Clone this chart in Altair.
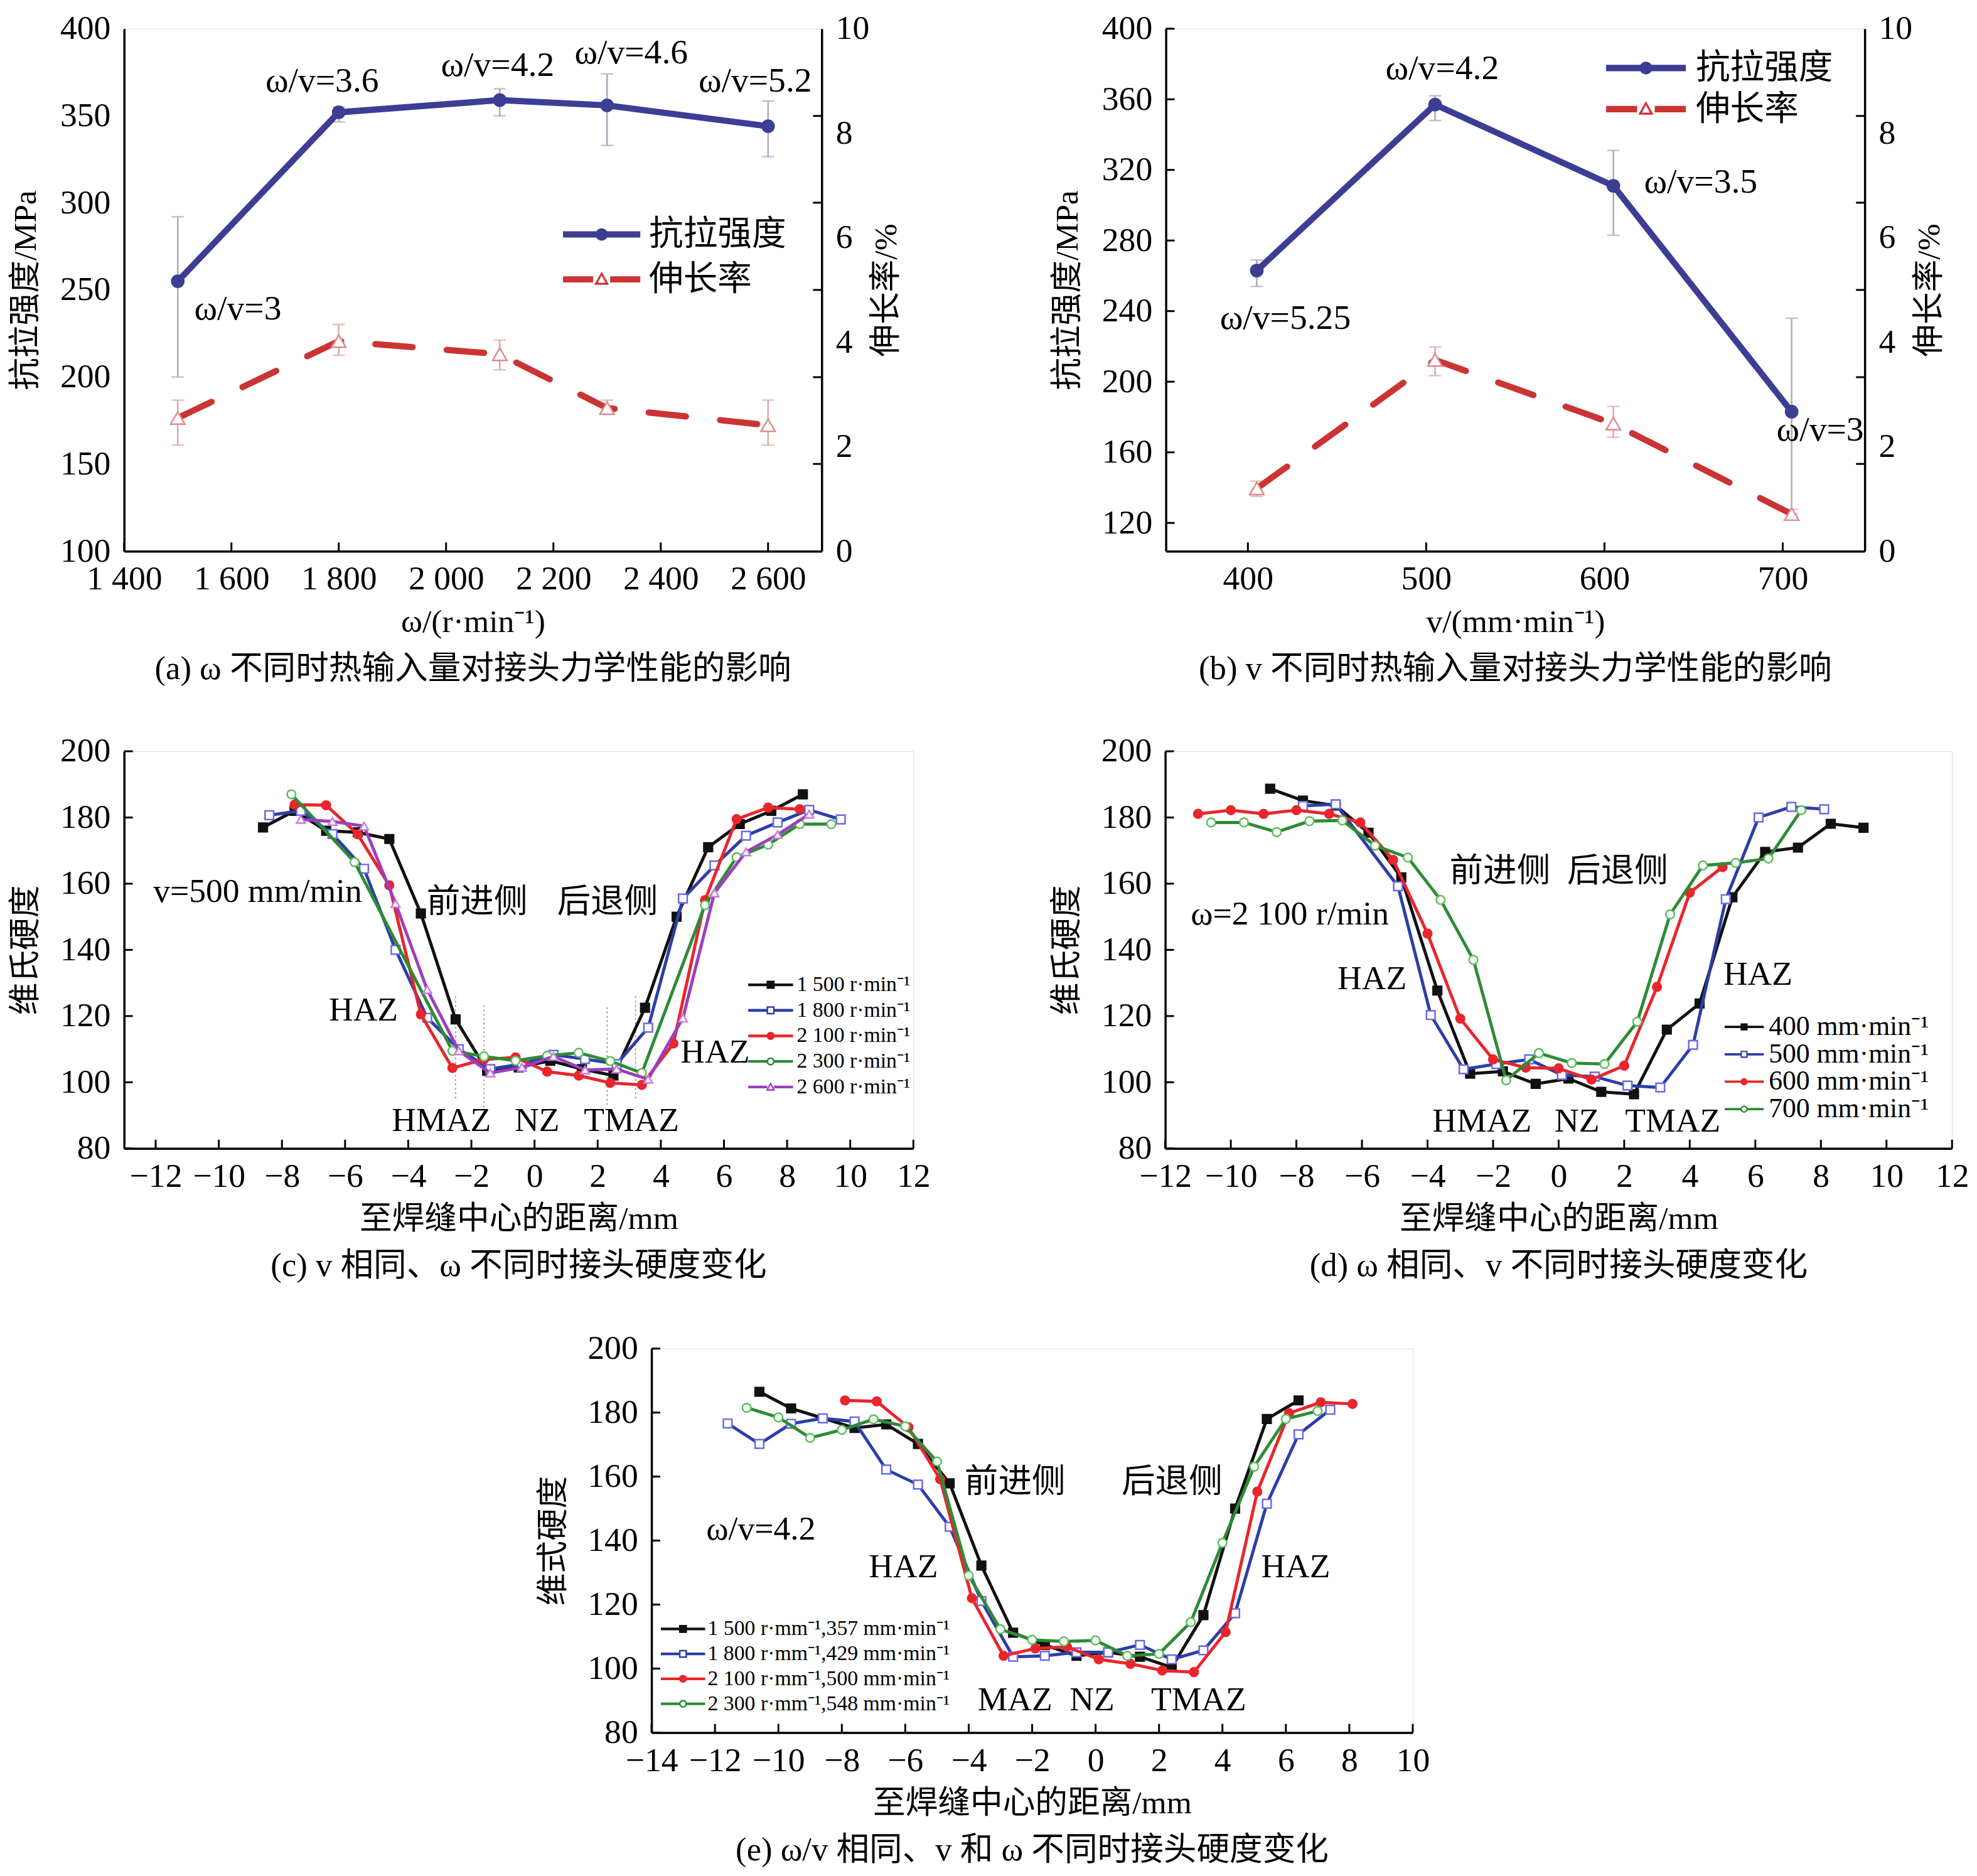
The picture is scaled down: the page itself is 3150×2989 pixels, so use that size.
import altair as alt
import pandas as pd

FONT = "'Liberation Serif', 'Noto Sans CJK SC', serif"

# ---------------- panel (a) ----------------
a_omega = [1500, 1800, 2100, 2300, 2600]
a_uts = [255, 352, 359, 356, 344]
a_uts_lo = [200, 346.5, 350, 333, 326.5]
a_uts_hi = [292, 355, 365.5, 374, 358.5]
a_el = [2.55, 4.02, 3.77, 2.74, 2.41]
a_el_lo = [2.03, 3.75, 3.47, 2.63, 2.03]
a_el_hi = [2.89, 4.34, 4.04, 2.89, 2.89]
a_ann_text = ["ω/v=3.6", "ω/v=4.2", "ω/v=4.6", "ω/v=5.2", "ω/v=3"]
a_ann_x = [1769, 2096, 2345, 2576, 1612]
a_ann_y = [370, 379, 386, 370, 239]
a_xticks = [1400, 1600, 1800, 2000, 2200, 2400, 2600]
a_yticks = [100, 150, 200, 250, 300, 350, 400]
el_ticks = [0, 2, 4, 6, 8, 10]
el_minor = [1.67, 3.33, 5, 6.67, 8.33]

# ---------------- panel (b) ----------------
b_v = [405, 505, 605, 705]
b_uts = [263, 357, 311, 183]
b_uts_lo = [254, 348, 283, 125]
b_uts_hi = [269, 362, 331, 236]
b_el = [1.2, 3.66, 2.44, 0.71]
b_el_lo = [1.05, 3.36, 2.18, 0.63]
b_el_hi = [1.34, 3.91, 2.77, 0.8]
b_ann_text = ["ω/v=4.2", "ω/v=3.5", "ω/v=5.25", "ω/v=3"]
b_ann_x = [509, 654, 421, 721]
b_ann_y = [377.6, 313, 236, 172.7]
b_xticks = [400, 500, 600, 700]
b_yticks = [120, 160, 200, 240, 280, 320, 360, 400]
mech_names = ["抗拉强度", "伸长率"]

# ---------------- panel (c) ----------------
c_names = ["1 500 r·min⁻¹", "1 800 r·min⁻¹", "2 100 r·min⁻¹", "2 300 r·min⁻¹", "2 600 r·min⁻¹"]
c1500_x = [-8.6, -7.6, -6.6, -5.6, -4.6, -3.6, -2.5, -1.5, -0.5, 0.5, 1.5, 2.5, 3.5, 4.5, 5.5, 6.5, 7.5, 8.5]
c1500_y = [177, 182, 176, 175.5, 173.5, 151, 119, 103.5, 104.5, 106.5, 104, 102, 122.5, 150, 171, 178, 182, 187]
c1800_x = [-8.4, -7.4, -6.4, -5.4, -4.4, -3.4, -2.4, -1.4, -0.4, 0.6, 1.6, 2.6, 3.6, 4.7, 5.7, 6.7, 7.7, 8.7, 9.7]
c1800_y = [180.7, 182, 175, 164.5, 140, 119.5, 110, 104, 105.5, 108.3, 107, 105.5, 116.5, 155.5, 165.5, 174.5, 178.5, 182.3, 179.4]
c2100_x = [-7.6, -6.6, -5.6, -4.6, -3.6, -2.6, -1.6, -0.6, 0.4, 1.4, 2.4, 3.4, 4.4, 5.4, 6.4, 7.4, 8.4]
c2100_y = [183.9, 183.7, 174.9, 159.5, 120.5, 104.3, 106.9, 107.5, 103.2, 102, 99.8, 99.2, 111.7, 155, 179.5, 183, 182.5]
c2300_x = [-7.7, -5.7, -2.6, -1.6, -0.6, 0.4, 1.4, 2.4, 3.4, 5.4, 6.4, 7.4, 8.4, 9.4]
c2300_y = [187, 166.5, 109.5, 107.8, 106.5, 108, 108.9, 106.4, 102.8, 153.5, 168, 171.8, 178, 178]
c2600_x = [-7.4, -6.4, -5.4, -4.4, -3.4, -2.4, -1.4, -0.4, 0.6, 1.6, 2.6, 3.6, 4.7, 5.7, 6.7, 7.7, 8.7]
c2600_y = [179.4, 178.8, 177.4, 154, 128, 109.5, 102.8, 104.5, 107.8, 103.7, 104, 100.9, 119.4, 157.2, 169.6, 174.8, 181]
c_zone_x = [-2.5, -1.6, 2.3, 3.2]
c_zone_top = [126, 123.3, 122.7, 126]
c_zone_bot = [94.6, 92.4, 92.9, 94.6]
c_ann_text = ["v=500 mm/min", "前进侧", "后退侧", "HAZ", "HAZ", "HMAZ", "NZ", "TMAZ"]
c_ann_x = [-8.77, -1.82, 2.31, -5.42, 5.72, -2.95, 0.08, 3.07]
c_ann_y = [157.5, 154.2, 154.2, 121.6, 108.9, 88.3, 88.3, 88.3]

# ---------------- panel (d) ----------------
d_names = ["400 mm·min⁻¹", "500 mm·min⁻¹", "600 mm·min⁻¹", "700 mm·min⁻¹"]
d400_x = [-8.8, -7.8, -6.8, -5.8, -4.8, -3.7, -2.7, -1.7, -0.7, 0.3, 1.3, 2.3, 3.3, 4.3, 5.3, 6.3, 7.3, 8.3, 9.3]
d400_y = [188.7, 185.1, 183.6, 175.4, 161.9, 127.7, 102.6, 103.3, 99.5, 101.1, 97.1, 96.4, 115.9, 123.8, 155.9, 169.6, 170.9, 178.1, 176.9]
d500_x = [-7.8, -6.8, -4.9, -3.9, -2.9, -1.9, -0.9, 0.1, 1.1, 2.1, 3.1, 4.1, 5.1, 6.1, 7.1, 8.1]
d500_y = [183.5, 184, 159.2, 120.3, 103.9, 105.5, 106.9, 102.2, 101.7, 99, 98.4, 111.3, 155.3, 180, 183.2, 182.5]
d600_x = [-11, -10, -9, -8, -7, -6.05, -5.05, -4.0, -3.0, -2.0, -1.0, 0, 1.0, 2.0, 3.0, 4.0, 5.0]
d600_y = [181.1, 182.2, 181.1, 182.2, 181.1, 178.5, 167.2, 144.9, 119.2, 106.9, 104.4, 104.2, 100.8, 105, 128.8, 157.3, 165]
d700_x = [-10.6, -9.6, -8.6, -7.6, -6.6, -5.6, -4.6, -3.6, -2.6, -1.6, -0.6, 0.4, 1.4, 2.4, 3.4, 4.4, 5.4, 6.4, 7.4]
d700_y = [178.5, 178.5, 175.6, 178.9, 179.1, 171.5, 167.9, 155.1, 137, 100.6, 108.8, 105.8, 105.5, 118.3, 150.7, 165.5, 166.3, 167.6, 182.2]
d_ann_text = ["ω=2 100 r/min", "前进侧", "后退侧", "HAZ", "HAZ", "HMAZ", "NZ", "TMAZ"]
d_ann_x = [-8.2, -1.79, 1.8, -5.69, 6.08, -2.34, 0.56, 3.48]
d_ann_y = [150.7, 163.5, 163.5, 131.2, 132.5, 88, 88, 88]

# ---------------- panel (e) ----------------
e_names = ["1 500 r·mm⁻¹,357 mm·min⁻¹", "1 800 r·mm⁻¹,429 mm·min⁻¹",
           "2 100 r·mm⁻¹,500 mm·min⁻¹", "2 300 r·mm⁻¹,548 mm·min⁻¹"]
e1500_x = [-10.6, -9.6, -7.6, -6.6, -5.6, -4.6, -3.6, -2.6, -1.6, -0.6, 0.4, 1.4, 2.4, 3.4, 4.4, 5.4, 6.4]
e1500_y = [186.5, 181.3, 175.2, 176.3, 170.2, 157.9, 132.2, 111.2, 107.4, 104, 105.1, 103.7, 100.4, 116.7, 150, 178, 183.8]
e1800_x = [-11.6, -10.6, -9.6, -8.6, -7.6, -6.6, -5.6, -4.6, -3.6, -2.6, -1.6, -0.6, 0.4, 1.4, 2.4, 3.4, 4.4, 5.4, 6.4, 7.4]
e1800_y = [176.6, 170.2, 176.5, 178.2, 177.2, 162.2, 157.5, 144.3, 121.1, 103.7, 104, 105.1, 105.1, 107.4, 102.9, 105.7, 117.3, 151.5, 173.2, 180.9]
e2100_x = [-7.9, -6.9, -5.9, -4.9, -3.9, -2.9, -1.9, -0.9, 0.1, 1.1, 2.1, 3.1, 4.1, 5.1, 6.1, 7.1, 8.1]
e2100_y = [183.8, 183.5, 175.4, 159.2, 122, 104, 106.3, 106.8, 102.9, 101.5, 99.4, 98.9, 111.4, 155.3, 179.8, 183.2, 182.7]
e2300_x = [-11, -10, -9, -8, -7, -6, -5, -4, -3, -2, -1, 0, 1, 2, 3, 4, 5, 6, 7]
e2300_y = [181.5, 178.5, 172.1, 174.6, 177.9, 175.7, 164.7, 129.1, 112.3, 109, 108.5, 108.8, 104, 104.6, 114.5, 139.3, 163.1, 178, 180.5]
e_ann_text = ["ω/v=4.2", "前进侧", "后退侧", "HAZ", "HAZ", "MAZ", "NZ", "TMAZ"]
e_ann_x = [-10.55, -2.54, 2.41, -6.06, 6.31, -2.54, -0.11, 3.25]
e_ann_y = [143.4, 158.1, 158.1, 131.6, 131.6, 90, 90, 90]

hard_ticks = [80, 100, 120, 140, 160, 180, 200]

# ---------------- styles ----------------
NAVY = "#3c3d94"
RED = "#cc3333"
UERR = "#a9aabb"
EERR = "#dba8a8"
TICK_PX = 14      # inward tick length in pixels
LINEW = 3.5

# legend symbol paths (unit box -1..1)
SEG = "M-1,-0.06H1V0.06H-1Z "
def segs(g):
    return f"M-1,-0.06H-{g}V0.06H-1Z M{g},-0.06H1V0.06H{g}Z "
P_SQ_F = SEG + "M-0.18,-0.18H0.18V0.18H-0.18Z"
P_SQ_O = segs(0.18) + "M-0.18,-0.18H0.18V0.18H-0.18Z M-0.11,-0.11V0.11H0.11V-0.11Z"
P_CI_F = SEG + "M-0.18,0A0.18,0.18 0 1,1 0.18,0A0.18,0.18 0 1,1 -0.18,0Z"
P_CI_O = segs(0.17) + "M-0.18,0A0.18,0.18 0 1,1 0.18,0A0.18,0.18 0 1,1 -0.18,0Z M-0.11,0A0.11,0.11 0 1,0 0.11,0A0.11,0.11 0 1,0 -0.11,0Z"
P_TR_O = segs(0.15) + "M0,-0.22L0.21,0.16L-0.21,0.16Z M0,-0.09L-0.1,0.09L0.1,0.09Z"
P_M_U = "M-1,-0.08H1V0.08H-1Z M-0.16,0A0.16,0.16 0 1,1 0.16,0A0.16,0.16 0 1,1 -0.16,0Z"
P_M_E = ("M-1,-0.08H-0.22V0.08H-1Z M0.22,-0.08H1V0.08H0.22Z "
         "M0,-0.2L0.19,0.14L-0.19,0.14Z M0,-0.1L-0.1,0.09L0.1,0.09Z")


def xaxis(ticks, title, fmt=None):
    kw = dict(values=ticks, title=title, grid=False, ticks=False, labelPadding=18,
              titlePadding=16, labelFont=FONT, labelFontSize=54, titleFont=FONT,
              titleFontSize=52, titleFontWeight="normal", labelColor="black",
              titleColor="black", domainColor="black", domainWidth=LINEW,
              labelFlush=False, labelOverlap=False)
    if fmt:
        kw["labelExpr"] = fmt
    return alt.Axis(**kw)


def yaxis(ticks, title, orient="left", tpad=28):
    kw = dict(values=ticks, title=title, orient=orient, grid=False, ticks=False,
              labelPadding=22, titlePadding=tpad, labelFont=FONT, labelFontSize=54,
              titleFont=FONT, titleFontSize=52, titleFontWeight="normal",
              titleAngle=270, labelColor="black", titleColor="black",
              domainColor="black", domainWidth=LINEW, labelFlush=False,
              labelOverlap=False)
    if orient == "right":
        kw["titleBaseline"] = "top"
    return alt.Axis(**kw)


def legend_layer(names, colors, paths, lx, ly, clip, symw, loff, fsize):
    L = alt.Legend(orient="none", legendX=lx, legendY=ly, title=None,
                   symbolSize=symw * symw, clipHeight=clip, labelFont=FONT,
                   labelFontSize=fsize, labelColor="black", labelOffset=loff,
                   labelLimit=3000, rowPadding=0, padding=0, symbolStrokeWidth=0,
                   symbolOpacity=1)
    return alt.Chart(pd.DataFrame({"lg": names})).transform_filter("false").mark_point(
        filled=True, strokeWidth=0, opacity=1).encode(
        color=alt.Color("lg:N", scale=alt.Scale(domain=names, range=colors), legend=L),
        shape=alt.Shape("lg:N", scale=alt.Scale(domain=names, range=paths), legend=L),
    )


def caption(text):
    return alt.TitleParams(text=text, orient="bottom", font=FONT, fontSize=53,
                           fontWeight="normal", color="black", offset=24,
                           frame="group", anchor="middle")


def tick_rules(X, Y, xs, ys, xs2=None, ys2=None):
    """Inward axis ticks drawn as short rules through the chart's own scales."""
    d = {"x": xs, "y": ys}
    enc = dict(x=X, y=Y)
    if xs2 is not None:
        d["x2"] = xs2
        enc["x2"] = "x2:Q"
    if ys2 is not None:
        d["y2"] = ys2
        enc["y2"] = "y2:Q"
    return alt.Chart(pd.DataFrame(d)).mark_rule(color="black", strokeWidth=3).encode(**enc)


def mech_panel(x, uts, ulo, uhi, el, elo, ehi, ann_t, ann_x, ann_y, xdom, xticks,
               xtitle, ydom, yticks, cap, W, H, leg, xfmt=None, left_ticks=False):
    X = alt.X("x:Q", scale=alt.Scale(domain=xdom, nice=False, zero=False),
              axis=xaxis(xticks, xtitle, xfmt))
    yL = yaxis(yticks, "抗拉强度/MPa", "left", 28)
    sL = alt.Scale(domain=ydom, nice=False, zero=False)
    yR = yaxis(el_ticks, "伸长率/%", "right", 2)
    sR = alt.Scale(domain=[0, 10], nice=False, zero=False)
    YL = alt.Y("y:Q", scale=sL, axis=yL)
    YR = alt.Y("y:Q", scale=sR, axis=yR)
    dx = TICK_PX * (xdom[1] - xdom[0]) / W
    dyL = TICK_PX * (ydom[1] - ydom[0]) / H

    bu = alt.Chart(pd.DataFrame({"x": x, "y": uts, "lo": ulo, "hi": uhi}))
    be = alt.Chart(pd.DataFrame({"x": x, "y": el, "lo": elo, "hi": ehi}))

    left_layers = [
        tick_rules(X, YL, xticks, [ydom[0]] * len(xticks), ys2=[ydom[0] + dyL] * len(xticks)),
    ]
    if left_ticks:
        left_layers.append(tick_rules(X, YL, [xdom[0]] * len(yticks), yticks,
                                      xs2=[xdom[0] + dx] * len(yticks)))
    left_layers += [
        bu.mark_rule(color=UERR, strokeWidth=2.5).encode(
            x=X, y=alt.Y("lo:Q", scale=sL, axis=yL), y2="hi:Q"),
        bu.mark_tick(orient="horizontal", color=UERR, size=20, thickness=2.5).encode(
            x=X, y=alt.Y("lo:Q", scale=sL, axis=yL)),
        bu.mark_tick(orient="horizontal", color=UERR, size=20, thickness=2.5).encode(
            x=X, y=alt.Y("hi:Q", scale=sL, axis=yL)),
        bu.mark_line(color=NAVY, strokeWidth=10).encode(x=X, y=YL),
        bu.mark_point(filled=True, color=NAVY, size=480, opacity=1).encode(x=X, y=YL),
        alt.Chart(pd.DataFrame({"x": ann_x, "y": ann_y, "t": ann_t})).mark_text(
            font=FONT, fontSize=56, color="black").encode(x=X, y=YL, text="t:N"),
        legend_layer(mech_names, [NAVY, RED], [P_M_U, P_M_E], *leg),
    ]
    left = alt.layer(*left_layers)
    right = alt.layer(
        tick_rules(X, YR, [xdom[1] - dx] * len(el_minor), el_minor,
                   xs2=[xdom[1]] * len(el_minor)),
        be.mark_rule(color=EERR, strokeWidth=2.5).encode(
            x=X, y=alt.Y("lo:Q", scale=sR, axis=yR), y2="hi:Q"),
        be.mark_tick(orient="horizontal", color=EERR, size=20, thickness=2.5).encode(
            x=X, y=alt.Y("lo:Q", scale=sR, axis=yR)),
        be.mark_tick(orient="horizontal", color=EERR, size=20, thickness=2.5).encode(
            x=X, y=alt.Y("hi:Q", scale=sR, axis=yR)),
        be.mark_line(color=RED, strokeWidth=10, strokeDash=[60, 55], strokeCap="round").encode(
            x=X, y=YR),
        be.mark_point(shape="triangle-up", filled=True, fill="white", stroke="#e08a8a",
                      strokeWidth=2.5, size=520, opacity=1).encode(x=X, y=YR),
    )
    return alt.layer(left, right).resolve_scale(y="independent").properties(
        width=W, height=H, title=caption(cap))


def hard_panel(series, xdom, xticks, ytitle, ann_t, ann_x, ann_y, cap, W, H, leg,
               names, lcolors, lpaths, zones=None):
    X = alt.X("x:Q", scale=alt.Scale(domain=xdom, nice=False, zero=False),
              axis=xaxis(xticks, "至焊缝中心的距离/mm"))
    ya = yaxis(hard_ticks, ytitle, "left", 28)
    sY = alt.Scale(domain=[80, 200], nice=False, zero=False)
    Y = alt.Y("y:Q", scale=sY, axis=ya)
    dx = TICK_PX * (xdom[1] - xdom[0]) / W
    dy = TICK_PX * 120 / H
    layers = [
        tick_rules(X, Y, xticks, [80] * len(xticks), ys2=[80 + dy] * len(xticks)),
        tick_rules(X, Y, [xdom[0]] * len(hard_ticks), hard_ticks,
                   xs2=[xdom[0] + dx] * len(hard_ticks)),
    ]
    if zones is not None:
        zx, zt, zb = zones
        layers.append(alt.Chart(pd.DataFrame({"x": zx, "y": zt, "y2": zb})).mark_rule(
            color="#8a8a8a", strokeWidth=1.5, strokeDash=[3, 4]).encode(
            x=X, y=Y, y2="y2:Q"))
    for xs, ys, lc, shp, fc, sc in series:
        b = alt.Chart(pd.DataFrame({"x": xs, "y": ys}))
        layers.append(b.mark_line(color=lc, strokeWidth=5).encode(x=X, y=Y))
        layers.append(b.mark_point(shape=shp, filled=True, fill=fc, stroke=sc,
                                   strokeWidth=2.5, size=190, opacity=1).encode(x=X, y=Y))
    layers.append(alt.Chart(pd.DataFrame({"x": ann_x, "y": ann_y, "t": ann_t})).mark_text(
        font=FONT, fontSize=54, color="black").encode(x=X, y=Y, text="t:N"))
    layers.append(legend_layer(names, lcolors, lpaths, *leg))
    return alt.layer(*layers).properties(width=W, height=H, title=caption(cap))


A_FMT = "replace(format(datum.value, ','), ',', ' ')"

pa = mech_panel(a_omega, a_uts, a_uts_lo, a_uts_hi, a_el, a_el_lo, a_el_hi,
                a_ann_text, a_ann_x, a_ann_y, [1400, 2700], a_xticks, "ω/(r·min⁻¹)",
                [100, 400], a_yticks, "(a) ω 不同时热输入量对接头力学性能的影响",
                1119, 838, (704, 294, 72, 124, 14, 55), A_FMT)
pb = mech_panel(b_v, b_uts, b_uts_lo, b_uts_hi, b_el, b_el_lo, b_el_hi,
                b_ann_text, b_ann_x, b_ann_y, [354, 746], b_xticks, "v/(mm·min⁻¹)",
                [104, 400], b_yticks, "(b) v 不同时热输入量对接头力学性能的影响",
                1121, 838, (706, 30, 66, 128, 16, 55), left_ticks=True)

BLACK, BLUE, RED2, GREEN, PURPLE = "#111111", "#2d3ea8", "#e8262c", "#2e8b35", "#9b3fbf"
c_series = [
    (c1500_x, c1500_y, BLACK, "square", BLACK, BLACK),
    (c1800_x, c1800_y, BLUE, "square", "white", "#6a6ae6"),
    (c2100_x, c2100_y, RED2, "circle", RED2, RED2),
    (c2300_x, c2300_y, GREEN, "circle", "white", "#5bbf5b"),
    (c2600_x, c2600_y, PURPLE, "triangle-up", "white", "#c77be0"),
]
pc = hard_panel(c_series, [-13, 12], list(range(-12, 13, 2)), "维氏硬度",
                c_ann_text, c_ann_x, c_ann_y, "(c) v 相同、ω 不同时接头硬度变化",
                1266, 637, (1001, 354, 41, 72, 6, 34), c_names,
                [BLACK, BLUE, RED2, GREEN, PURPLE],
                [P_SQ_F, P_SQ_O, P_CI_F, P_CI_O, P_TR_O],
                zones=(c_zone_x, c_zone_top, c_zone_bot))

d_series = [
    (d400_x, d400_y, BLACK, "square", BLACK, BLACK),
    (d500_x, d500_y, BLUE, "square", "white", "#6a6ae6"),
    (d600_x, d600_y, RED2, "circle", RED2, RED2),
    (d700_x, d700_y, GREEN, "circle", "white", "#5bbf5b"),
]
pd_ = hard_panel(d_series, [-12, 12], list(range(-12, 13, 2)), "维氏硬度",
                 d_ann_text, d_ann_x, d_ann_y, "(d) ω 相同、v 不同时接头硬度变化",
                 1262, 637, (897, 422, 40, 63, 8, 44), d_names,
                 [BLACK, BLUE, RED2, GREEN], [P_SQ_F, P_SQ_O, P_CI_F, P_CI_O])

e_series = [
    (e1500_x, e1500_y, BLACK, "square", BLACK, BLACK),
    (e1800_x, e1800_y, BLUE, "square", "white", "#6a6ae6"),
    (e2100_x, e2100_y, RED2, "circle", RED2, RED2),
    (e2300_x, e2300_y, GREEN, "circle", "white", "#5bbf5b"),
]
pe = hard_panel(e_series, [-14, 10], list(range(-14, 11, 2)), "维式硬度",
                e_ann_text, e_ann_x, e_ann_y, "(e) ω/v 相同、v 和 ω 不同时接头硬度变化",
                1221, 616, (15, 430, 39.5, 71, 4, 34), e_names,
                [BLACK, BLUE, RED2, GREEN], [P_SQ_F, P_SQ_O, P_CI_F, P_CI_O])

spacer = alt.Chart(pd.DataFrame({"v": [0]})).mark_point(opacity=0).encode(
    x=alt.X("v:Q", axis=None), y=alt.Y("v:Q", axis=None)).properties(
    width=660, height=10, view=alt.ViewBackground(stroke="transparent"))

RES = dict(color="independent", shape="independent")
row1 = alt.hconcat(pa, pb, spacing=237).resolve_scale(**RES)
row2 = alt.hconcat(pc, pd_, spacing=191).resolve_scale(**RES)
row3 = alt.hconcat(spacer, pe, spacing=0).resolve_scale(**RES)

chart = alt.vconcat(row1, row2, row3, spacing=76).resolve_scale(**RES).properties(
    padding={"left": 6, "top": 0, "right": 4, "bottom": 4}
).configure_view(stroke="black", strokeWidth=LINEW).configure(background="white")

chart.save("out.html", embed_options={"renderer": "svg", "actions": False})
